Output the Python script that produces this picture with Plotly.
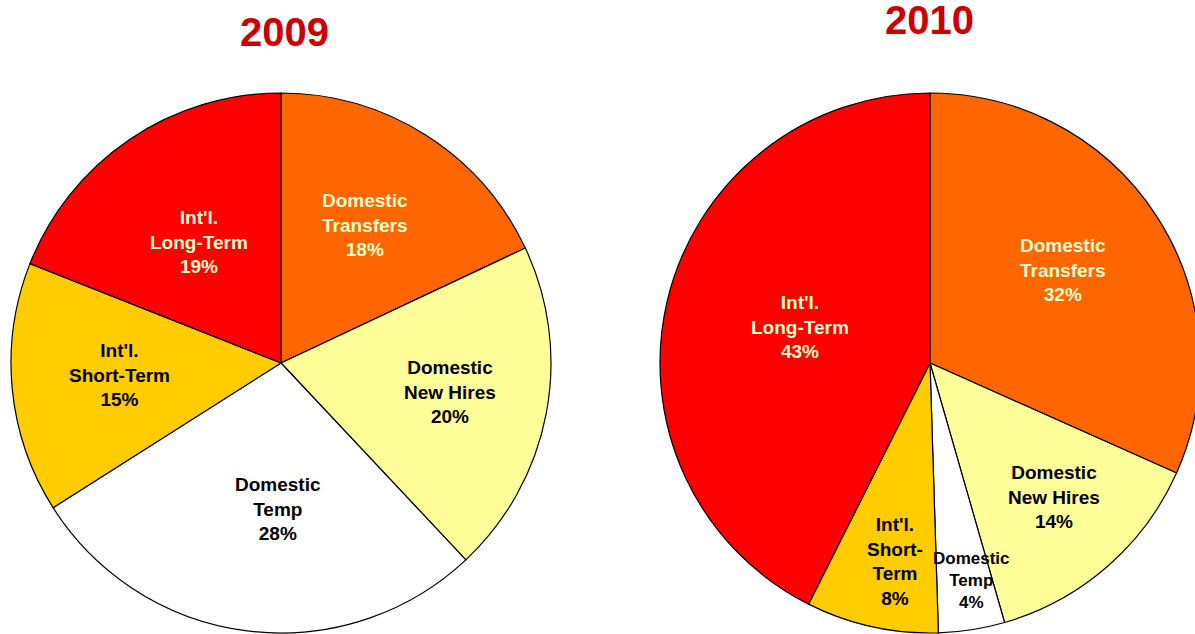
import math
import plotly.graph_objects as go

# Relocation mix by category, slices run clockwise from 12 o'clock
categories = ["Domestic Transfers", "Domestic New Hires", "Domestic Temp",
              "Int'l. Short-Term", "Int'l. Long-Term"]
label_lines = [["Domestic", "Transfers"], ["Domestic", "New Hires"], ["Domestic", "Temp"],
               ["Int'l.", "Short-Term"], ["Int'l.", "Long-Term"]]
label_lines_2010 = [["Domestic", "Transfers"], ["Domestic", "New Hires"], ["Domestic", "Temp"],
                    ["Int'l.", "Short-", "Term"], ["Int'l.", "Long-Term"]]
years = ["2009", "2010"]
shares_2009 = [18, 20, 28, 15, 19]
shares_2010 = [32, 14, 4, 8, 43]

# Styling
slice_colors = ["#FF6600", "#FFFF99", "#FFFFFF", "#FFCC00", "#FF0000"]
text_colors = ["#FFFFCC", "#000000", "#000000", "#000000", "#FFFFCC"]
W, H = 1210, 634
R = 270
centers_px = [(281, 363), (930, 363)]
title_px = [(284, 32), (929, 20)]
# radial position (fraction of radius) and angular nudge (deg) of each label
label_r = [[0.60, 0.635, 0.54, 0.60, 0.54], [0.60, 0.676, 0.82, 0.745, 0.50]]
label_dtheta = [[-1, -1, -6, 1, 0], [-2, -2, -2, -2.5, 2]]
label_size = [[19, 19, 19, 19, 19], [19, 19, 17, 19, 19]]

fig = go.Figure()
annotations = []

for k, (year, shares, lines) in enumerate(zip(years, [shares_2009, shares_2010],
                                              [label_lines, label_lines_2010])):
    cx, cy = centers_px[k]
    dom_x = [(cx - R) / W, (cx + R) / W]
    dom_y = [(H - cy - R) / H, (H - cy + R) / H]
    fig.add_trace(go.Pie(
        labels=categories,
        values=shares,
        sort=False,
        direction="clockwise",
        rotation=0,
        textinfo="none",
        hovertemplate="%{label}: %{value}%<extra>" + year + "</extra>",
        marker=dict(colors=slice_colors, line=dict(color="#000000", width=1.2)),
        domain=dict(x=dom_x, y=dom_y),
        showlegend=False,
    ))

    total = sum(shares)
    cum = 0
    for i, v in enumerate(shares):
        mid = (cum + v / 2) / total * 360 + label_dtheta[k][i]
        cum += v
        rr = label_r[k][i] * R
        px = cx + rr * math.sin(math.radians(mid))
        py = cy - rr * math.cos(math.radians(mid))
        annotations.append(dict(
            x=px / W, y=(H - py) / H, xref="paper", yref="paper",
            xanchor="center", yanchor="middle", showarrow=False,
            text="<br>".join(lines[i] + [f"{v}%"]),
            align="center",
            font=dict(family="Liberation Sans, Arial, sans-serif", size=label_size[k][i],
                      color=text_colors[i], weight="bold"),
        ))

    tx, ty = title_px[k]
    annotations.append(dict(
        x=tx / W, y=(H - ty) / H, xref="paper", yref="paper",
        xanchor="center", yanchor="middle", showarrow=False,
        text=year,
        font=dict(family="Liberation Sans, Arial, sans-serif", size=40,
                  color="#CC0000", weight="bold"),
    ))

fig.update_layout(
    width=W, height=H,
    margin=dict(l=0, r=0, t=0, b=0),
    paper_bgcolor="#FFFFFF",
    plot_bgcolor="#FFFFFF",
    annotations=annotations,
)

fig.write_html(
    "out.html",
    post_script="document.documentElement.style.overflow='hidden';"
                "document.body.style.overflow='hidden';document.body.style.margin='0';",
)
